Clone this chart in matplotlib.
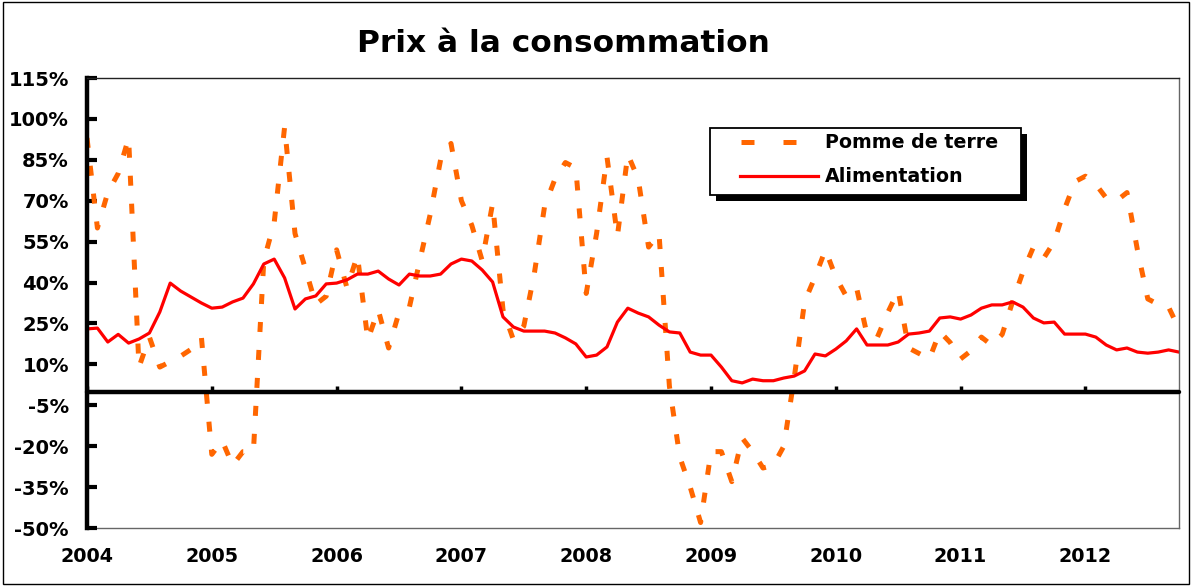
import numpy as np
import matplotlib
matplotlib.use("Agg")
import matplotlib.pyplot as plt
from matplotlib.lines import Line2D
from matplotlib.patches import Rectangle

# monthly series, Jan 2004 .. Oct 2012 (year-on-year change, %)
years = ["2004", "2005", "2006", "2007", "2008", "2009", "2010", "2011", "2012"]

pomme_de_terre = [
    93, 60, 73, 80, 93, 9, 20, 9, 11, 13, 15.5, 20,
    -23, -18, -27, -22, -22, 48, 62, 97, 58, 45, 32, 35,
    52, 38, 50, 19, 30, 16, 29, 31, 48, 65, 85, 91,
    70, 61, 48, 69, 30, 19, 24, 43, 68, 78, 84, 82,
    36, 58, 86, 57, 87, 78, 53, 58, 2, -24, -35, -48,
    -22, -22, -33, -17, -22, -28, -27, -20, 5, 33, 42, 52,
    42, 35, 38, 21, 20, 29, 37, 16, 14, 12, 22, 18,
    12, 15, 20, 17, 21, 33, 44, 53, 49, 55, 67, 77,
    79, 76, 71, 70, 73, 52, 34, 32, 31, 23,
]

alimentation = [
    23, 23.3, 18.2, 21, 17.8, 19.3, 21.5, 29.2, 39.8, 36.9, 34.7, 32.5,
    30.6, 31, 32.9, 34.3, 39.5, 46.8, 48.6, 41.7, 30.3, 34, 35.1, 39.5,
    39.8, 41, 43.1, 43.1, 44.2, 41.3, 39.1, 43.1, 42.4, 42.4, 43.1, 46.8,
    48.6, 47.9, 44.6, 40.2, 27.4, 23.7, 22.2, 22.2, 22.2, 21.5, 19.7, 17.5,
    12.7, 13.4, 16.4, 25.5, 30.6, 28.8, 27.4, 24.4, 21.9, 21.5, 14.5, 13.4,
    13.4, 9, 4, 3.2, 4.6, 4, 4, 5, 5.7, 7.6, 13.8, 13.1,
    15.6, 18.6, 23, 17.1, 17.1, 17.1, 18.2, 21.1, 21.5, 22.2, 27, 27.4,
    26.6, 28.1, 30.6, 31.8, 31.8, 32.9, 31, 27, 25.2, 25.5, 21.1, 21.1,
    21.1, 20, 17.1, 15.3, 16, 14.5, 14.1, 14.5, 15.3, 14.5,
]

W, H = 1191, 586
ORANGE = "#FF6600"
RED = "#FF0000"
DASH = (0, (2.0, 3.6))


def fx(px):
    return px / W


def fy(py):
    return 1 - py / H


months = np.arange(len(alimentation))
year_pos = np.arange(len(years)) * 12

plt.rcParams["font.family"] = "DejaVu Sans"
plt.rcParams["font.weight"] = "bold"

fig = plt.figure(figsize=(W / 100, H / 100), dpi=100)
ax = fig.add_axes([fx(87), fy(528), fx(1179) - fx(87), fy(78) - fy(528)])

ax.plot(months, pomme_de_terre, color=ORANGE, lw=3.6, linestyle=DASH,
        dash_capstyle="butt", label="Pomme de terre")
ax.plot(months, alimentation, color=RED, lw=2.3, label="Alimentation")

ax.set_xlim(0, len(alimentation) - 1)
ax.set_ylim(-50, 115)
yt = np.arange(-50, 116, 15)
ax.set_yticks(yt)
ax.set_yticklabels([f"{v}%" for v in yt], fontsize=14, fontweight="bold")
ax.tick_params(axis="y", direction="in", length=7, width=3, pad=13)

ax.spines["left"].set_linewidth(3.2)
ax.spines["bottom"].set_position(("data", 0))
ax.spines["bottom"].set_linewidth(3.2)
ax.spines["bottom"].set_capstyle("round")
ax.spines["top"].set_linewidth(1.0)
ax.spines["top"].set_color("#222222")
ax.spines["right"].set_linewidth(1.0)
ax.spines["right"].set_color("#666666")
ax.set_xticks(year_pos)
ax.tick_params(axis="x", direction="in", length=4.5, width=2.5, labelbottom=False)

sec = ax.secondary_xaxis("bottom")
sec.set_xticks(year_pos)
sec.set_xticklabels(years, fontsize=13.8, fontweight="bold")
sec.tick_params(length=0, pad=14)
sec.spines["bottom"].set_linewidth(1.0)
sec.spines["bottom"].set_color("#666666")

fig.text(fx(563), fy(43), "Prix à la consommation", ha="center", va="center",
         fontsize=22.5, fontweight="bold")

# legend box with solid black shadow
fig.patches.append(Rectangle((fx(716), fy(201)), fx(1027) - fx(716), fy(134) - fy(201),
                             transform=fig.transFigure, facecolor="black", edgecolor="none", zorder=5))
fig.patches.append(Rectangle((fx(710), fy(195)), fx(1021) - fx(710), fy(128) - fy(195),
                             transform=fig.transFigure, facecolor="white", edgecolor="black",
                             lw=1.3, zorder=6))
fig.lines.append(Line2D([fx(741), fx(818)], [fy(142), fy(142)], transform=fig.transFigure,
                        color=ORANGE, lw=3.6, linestyle=(0, (2.6, 5.8)), dash_capstyle="butt",
                        zorder=7))
fig.lines.append(Line2D([fx(740), fx(818)], [fy(176), fy(176)], transform=fig.transFigure,
                        color=RED, lw=2.3, zorder=7))
fig.text(fx(825), fy(143), "Pomme de terre", ha="left", va="center", fontsize=13.7,
         fontweight="bold", zorder=8)
fig.text(fx(825), fy(176), "Alimentation", ha="left", va="center", fontsize=13.7,
         fontweight="bold", zorder=8)

# outer chart border
fig.patches.append(Rectangle((fx(3), fy(584)), fx(1189) - fx(3), fy(2) - fy(584),
                             transform=fig.transFigure, facecolor="none", edgecolor="black", lw=1.0))

fig.savefig("out.png", dpi=100)
